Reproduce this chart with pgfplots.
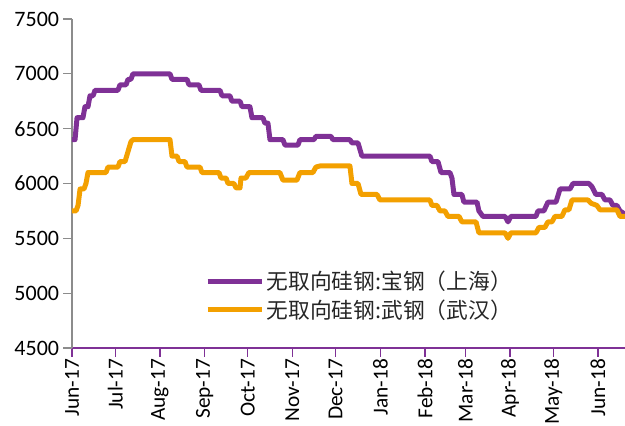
\documentclass[border=0pt]{standalone}
\usepackage{fontspec}
\setmainfont{Carlito}
\newfontfamily\cjk{Noto Sans CJK SC}
\usepackage{pgfplots}
\pgfplotsset{compat=1.18}
\definecolor{cpurple}{HTML}{7F3196}
\definecolor{corange}{HTML}{F3A000}

\begin{document}
\begin{tikzpicture}
\begin{axis}[
    name=ax,
    scale only axis,
    width=414.75pt, height=246.75pt,
    xmin=0, xmax=383.8,
    ymin=4500, ymax=7500,
    ytick={4500,5000,...,7500},
    xtick={0,30,61,92,122,153,183,214,245,273,304,334,365},
    xticklabels={Jun-17,Jul-17,Aug-17,Sep-17,Oct-17,Nov-17,Dec-17,Jan-18,Feb-18,Mar-18,Apr-18,May-18,Jun-18},
    axis x line=bottom, axis y line=left,
    x axis line style={-, cpurple, line width=1pt},
    y axis line style={-, black!45, line width=1pt},
    x tick style={cpurple, line width=1pt},
    y tick style={black!45, line width=1pt},
    tick align=outside,
    major tick length=6.5pt,
    /pgf/number format/assume math mode=true,
    /pgf/number format/1000 sep={},
    tick label style={font=\fontsize{16.5}{20}\selectfont, black},
    y tick label style={inner sep=3pt},
    x tick label style={rotate=90, anchor=east, inner sep=1.5pt, font=\fontsize{16}{19}\selectfont},
    legend style={at={(rel axis cs:0.233,0.159)}, anchor=west, draw=none, fill=none,
        font=\cjk\fontsize{16.3}{19}\selectfont, text=black!85, row sep=2pt},
    legend cell align=left,
    legend image code/.code={\draw[#1] (0pt,0pt) -- (40.5pt,0pt);},
]
\addplot[cpurple, line width=3.75pt, line join=round] coordinates {
(0,6400)(2.1,6400)(3.5,6600)(7.6,6600)(9.0,6700)(11.1,6700)(12.5,6800)(14.6,6800)
(16.0,6850)(31.9,6850)(33.3,6900)(37.5,6900)(38.9,6950)(40.9,6950)(42.3,7000)(68.0,7000)
(69.4,6950)(79.8,6950)(81.2,6900)(88.1,6900)(89.5,6850)(102.7,6850)(104.1,6800)(109.6,6800)
(111.0,6750)(116.6,6750)(118.0,6700)(123.5,6700)(124.9,6600)(132.5,6600)(133.9,6550)(136.0,6550)
(137.4,6400)(146.4,6400)(147.8,6350)(156.8,6350)(158.2,6400)(167.9,6400)(169.3,6430)(179.7,6430)
(181.1,6400)(192.9,6400)(194.3,6370)(198.5,6370)(201.2,6250)(248.4,6250)(249.8,6200)(254.0,6200)
(256.1,6100)(262.3,6100)(263.7,6050)(265.1,5900)(270.6,5900)(272.0,5830)(281.1,5830)(282.4,5750)
(285.2,5700)(300.5,5700)(302.6,5650)(304.6,5700)(322.0,5700)(323.4,5750)(327.5,5750)(330.3,5830)
(335.9,5830)(338.7,5950)(345.6,5950)(347.7,6000)(358.8,6000)(360.9,5970)(363.6,5900)(367.8,5900)
(369.9,5850)(373.4,5850)(375.4,5800)(378.2,5800)(380.3,5750)(383.8,5720)
};
\addlegendentry{无取向硅钢:宝钢（上海）}
\addplot[corange, line width=3.75pt, line join=round] coordinates {
(0,5750)(2.8,5750)(4.2,5800)(5.6,5950)(8.3,5950)(9.7,6000)(11.1,6100)(23.6,6100)
(25.0,6150)(31.9,6150)(33.3,6200)(36.8,6200)(40.9,6380)(42.3,6400)(68.0,6400)(69.4,6250)
(72.9,6250)(74.3,6200)(78.4,6200)(79.8,6150)(88.8,6150)(90.2,6100)(102.0,6100)(103.4,6050)
(106.9,6050)(108.3,6000)(112.4,6000)(113.8,5960)(116.6,5960)(117.3,6050)(120.7,6050)(122.8,6100)
(144.3,6100)(146.4,6030)(156.1,6030)(158.2,6100)(167.2,6100)(169.3,6150)(172.1,6160)(192.9,6160)
(194.3,6000)(198.5,6000)(200.6,5900)(211.7,5900)(213.7,5850)(248.4,5850)(249.8,5800)(253.3,5800)
(255.4,5750)(258.8,5750)(260.9,5700)(268.6,5700)(270.6,5650)(280.4,5650)(282.4,5550)(300.5,5550)
(302.6,5500)(304.6,5550)(322.0,5550)(324.1,5600)(328.2,5600)(330.3,5650)(333.1,5650)(335.2,5700)
(340.0,5700)(342.1,5760)(344.9,5760)(347.0,5850)(358.1,5850)(360.2,5820)(364.3,5800)(366.4,5760)
(378.2,5760)(380.3,5700)(383.8,5700)
};
\addlegendentry{无取向硅钢:武钢（武汉）}
\end{axis}
\pgfresetboundingbox
\path[use as bounding box] ([xshift=-54pt, yshift=-57.75pt]ax.south west) rectangle ([yshift=14.25pt]ax.north east);
\end{tikzpicture}
\end{document}
